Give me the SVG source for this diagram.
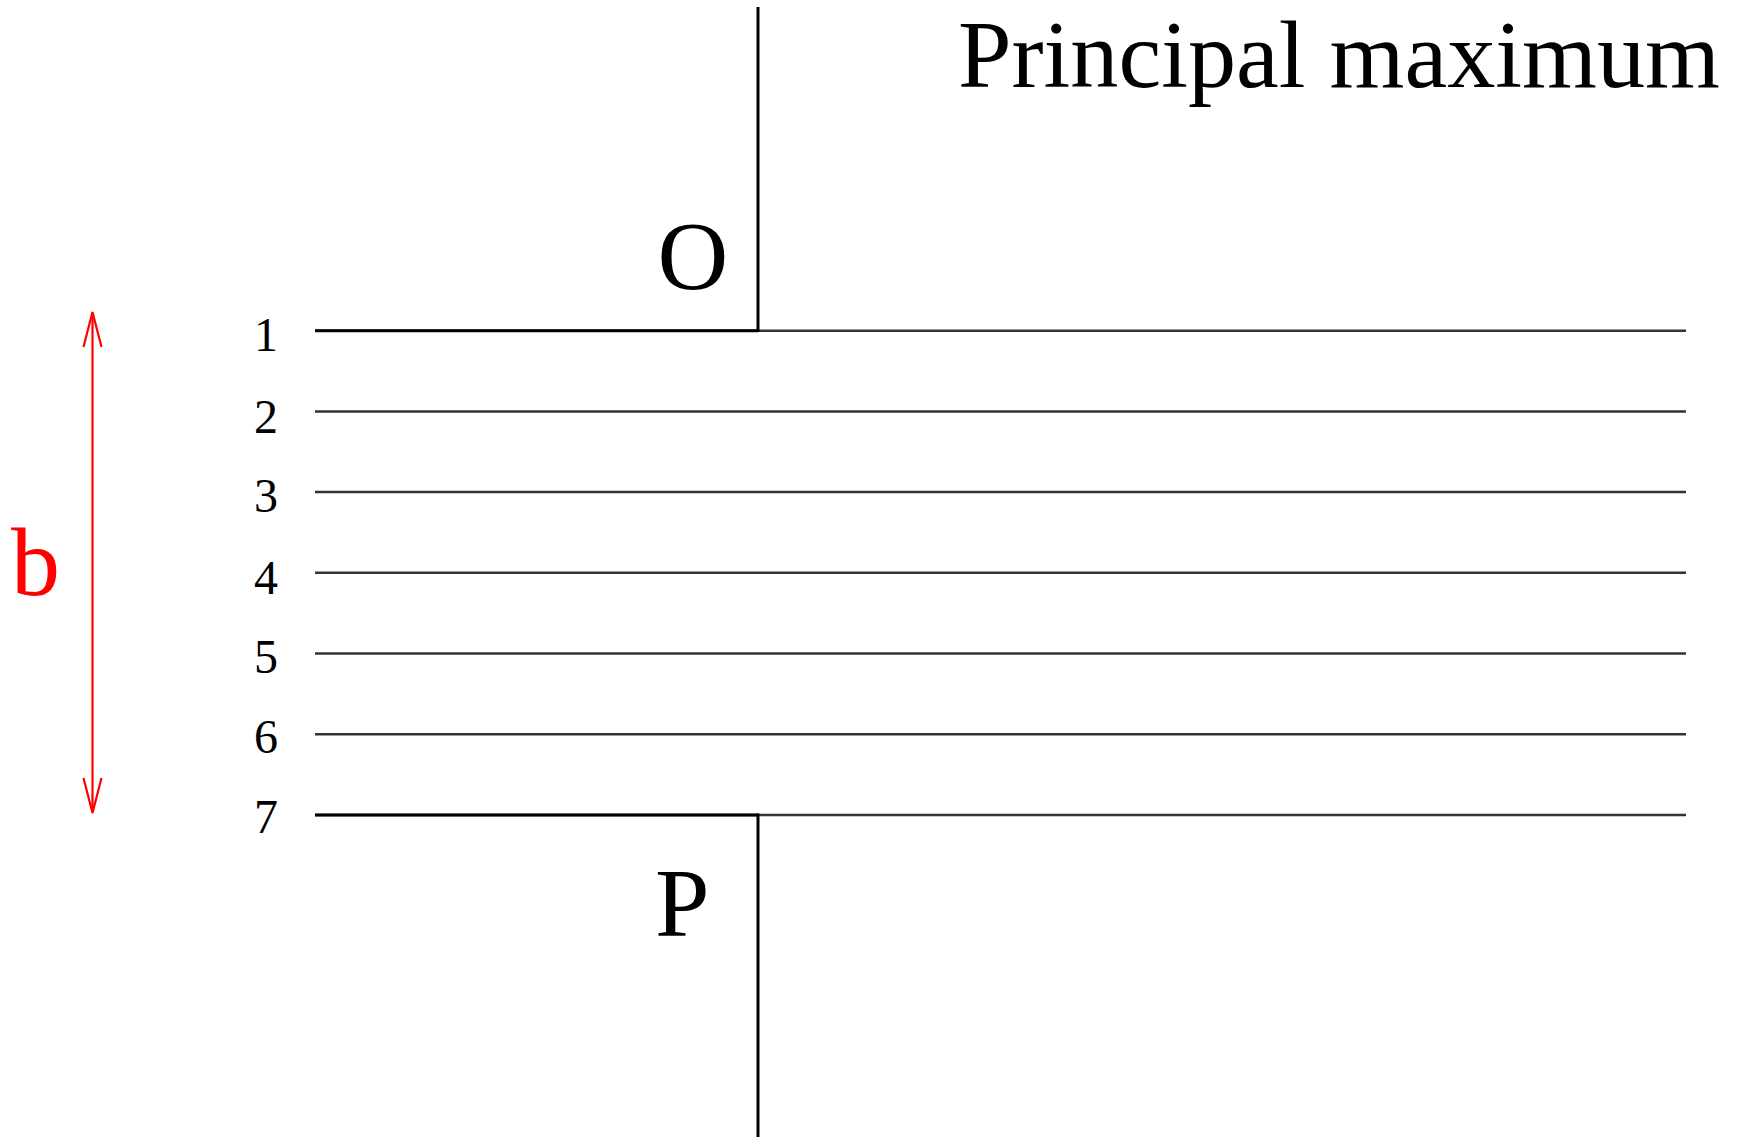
<svg xmlns="http://www.w3.org/2000/svg" width="1741" height="1137" viewBox="0 0 1741 1137">
<style>
.t{font-family:"Liberation Serif","Times New Roman",serif;fill:#000}
.num{font-size:48px;text-anchor:middle}
.big{font-size:98px}
.ln{stroke:#333;stroke-width:2.5;fill:none}
.blk{stroke:#000;stroke-width:3;fill:none}
.red{stroke:#f00;stroke-width:2.2;fill:none}
</style>
<rect width="1741" height="1137" fill="#fff"/>
<g id="connectors">
<line class="ln" x1="315" y1="330.7" x2="1686" y2="330.7"/>
<line class="ln" x1="315" y1="411.4" x2="1686" y2="411.4"/>
<line class="ln" x1="315" y1="492.1" x2="1686" y2="492.1"/>
<line class="ln" x1="315" y1="572.8" x2="1686" y2="572.8"/>
<line class="ln" x1="315" y1="653.5" x2="1686" y2="653.5"/>
<line class="ln" x1="315" y1="734.2" x2="1686" y2="734.2"/>
<line class="ln" x1="315" y1="814.9" x2="1686" y2="814.9"/>
<line class="blk" x1="315" y1="330.7" x2="758" y2="330.7"/>
<line class="blk" x1="315" y1="814.9" x2="758" y2="814.9"/>
<line class="blk" x1="758" y1="7" x2="758" y2="332"/>
<line class="blk" x1="758" y1="813.5" x2="758" y2="1137"/>
<line class="red" x1="92.5" y1="313" x2="92.5" y2="812"/>
<polyline class="red" points="83.5,347 92.5,312 101.5,347"/>
<polyline class="red" points="83.5,778 92.5,813 101.5,778"/>
</g>
<g id="labels">
<text class="t num" x="266" y="351">1</text>
<text class="t num" x="266" y="432.5">2</text>
<text class="t num" x="266" y="512">3</text>
<text class="t num" x="266" y="594">4</text>
<text class="t num" x="266" y="673">5</text>
<text class="t num" x="266" y="753">6</text>
<text class="t num" x="266" y="833">7</text>
</g>
<g id="node-O"><text class="t big" x="693" y="289" text-anchor="middle">O</text></g>
<g id="node-P"><text class="t big" x="655" y="936">P</text></g>
<g id="node-b"><text class="t big" x="11" y="595" style="fill:#f00">b</text></g>
<g id="title"><text class="t" x="958" y="87" font-size="96" textLength="762" lengthAdjust="spacingAndGlyphs">Principal maximum</text></g>
</svg>
